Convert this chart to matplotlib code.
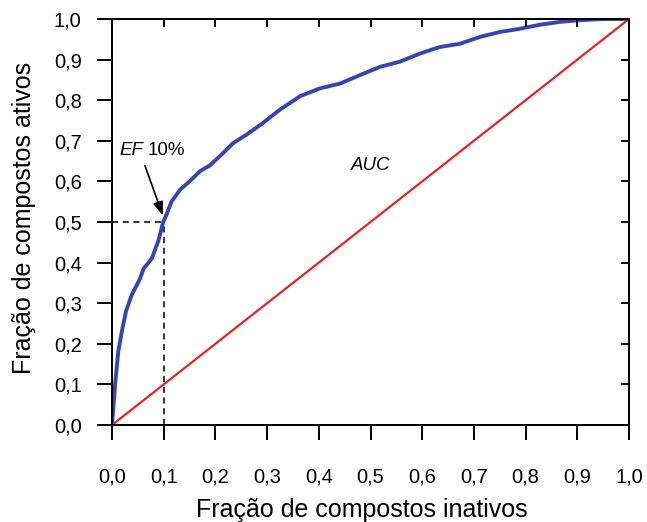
import matplotlib
matplotlib.use("Agg")
import matplotlib.pyplot as plt

plt.rcParams['font.family'] = ['Liberation Sans', 'DejaVu Sans']

# ROC curve
fpr = [0.0, 0.004, 0.006, 0.012, 0.019, 0.027, 0.038, 0.054, 0.061, 0.077, 0.090,
       0.099, 0.106, 0.115, 0.132, 0.150, 0.170, 0.190, 0.215, 0.234, 0.260, 0.290,
       0.325, 0.364, 0.402, 0.441, 0.480, 0.518, 0.557, 0.596, 0.634, 0.673, 0.712,
       0.750, 0.789, 0.828, 0.867, 0.905, 0.950, 1.0]
tpr = [0.0, 0.066, 0.10, 0.18, 0.23, 0.28, 0.32, 0.36, 0.385, 0.41, 0.455,
       0.50, 0.52, 0.55, 0.58, 0.60, 0.625, 0.64, 0.67, 0.694, 0.715, 0.742,
       0.777, 0.810, 0.829, 0.841, 0.862, 0.882, 0.895, 0.915, 0.931, 0.939, 0.956,
       0.968, 0.976, 0.986, 0.993, 0.997, 1.0, 1.0]
diag_x = [0.0, 1.0]
diag_y = [0.0, 1.0]
ef_x = 0.1
ef_y = 0.5
ticks = [i / 10 for i in range(11)]
tick_labels = ['0,0', '0,1', '0,2', '0,3', '0,4', '0,5', '0,6', '0,7', '0,8', '0,9', '1,0']

fig = plt.figure(figsize=(6.47, 5.22), dpi=100)
ax = fig.add_axes([112 / 647, 97 / 522, 517 / 647, 406 / 522])

ax.plot(diag_x, diag_y, color='#e8231f', lw=1.6, zorder=2)
ax.plot(fpr, tpr, color='#3646b0', lw=2.8, zorder=3, solid_joinstyle='round')
ax.plot([0, ef_x], [ef_y, ef_y], color='black', lw=1.1, ls=(0, (4, 3)), zorder=1)
ax.plot([ef_x, ef_x], [0, ef_y], color='black', lw=1.1, ls=(0, (4, 3)), zorder=1)

ax.annotate('', xy=(ef_x, ef_y + 0.01), xytext=(0.062, 0.645),
            arrowprops=dict(arrowstyle='-|>,head_length=0.8,head_width=0.3',
                            color='black', lw=1.2), zorder=4)
ax.text(0.061, 0.676, 'EF', style='italic', fontsize=13.5, ha='right', va='center')
ax.text(0.069, 0.676, '10%', fontsize=13.5, ha='left', va='center')
ax.text(0.50, 0.638, 'AUC', style='italic', fontsize=13.5, ha='center', va='center')

ax.set_xlim(0, 1)
ax.set_ylim(0, 1)
ax.set_xticks(ticks)
ax.set_yticks(ticks)
ax.set_xticklabels(tick_labels)
ax.set_yticklabels(tick_labels)
ax.tick_params(axis='both', which='major', direction='out', length=10.8, width=1.4,
               labelsize=14.5, top=False, right=False)
ax.tick_params(axis='x', pad=20)
ax.tick_params(axis='y', pad=11)

ax2 = ax.twinx()
ax2.set_ylim(0, 1)
ax2.set_yticks(ticks)
ax2.tick_params(axis='y', direction='in', length=5.5, width=1.4, labelright=False)
ax3 = ax.twiny()
ax3.set_xlim(0, 1)
ax3.set_xticks(ticks)
ax3.tick_params(axis='x', direction='in', length=5.5, width=1.4, labeltop=False)

for a in (ax, ax2, ax3):
    for s in a.spines.values():
        s.set_linewidth(1.4)

ax.set_xlabel('Fração de compostos inativos', fontsize=18, labelpad=8)
ax.xaxis.label.set_x(0.484)
ax.set_ylabel('Fração de compostos ativos', fontsize=18, labelpad=13)
ax.yaxis.label.set_y(0.51)

fig.savefig('out.png', dpi=100)
